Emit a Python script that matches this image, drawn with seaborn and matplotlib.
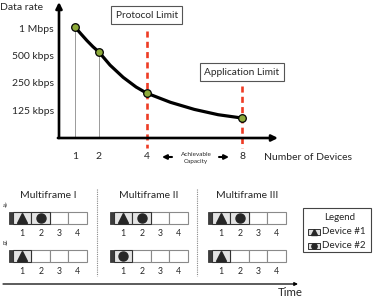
import matplotlib
matplotlib.use('Agg')
import matplotlib.pyplot as plt
from matplotlib.patches import Rectangle
import seaborn as sns
import pandas as pd

# values
devices = [1, 2, 4, 8]
rate_kbps = [1025, 545, 192, 102]
curve_devices = [1, 1.25, 1.5, 1.75, 2, 2.47, 3.02, 3.56, 4, 5, 6, 7, 8]
curve_kbps = [1025, 861, 727, 623, 545, 390, 286, 224, 192, 152, 127, 111, 102]
rate_ticks = [1000, 500, 250, 125]
rate_labels = ['1 Mbps', '500 kbps', '250 kbps', '125 kbps']
device_ticks = [1, 2, 4, 8]
limit_names = ['Protocol Limit', 'Application Limit']
limit_devices = [4, 8]

frame_titles = ['Multiframe I', 'Multiframe II', 'Multiframe III']
slot_labels = ['1', '2', '3', '4']
row_names = ['a)', 'b)']
schedule_a = [['D1', 'D2', '', ''], ['D1', 'D2', '', ''], ['D1', 'D2', '', '']]
schedule_b = [['D1', '', '', ''], ['D2', '', '', ''], ['D1', '', '', '']]
legend_names = ['Device #1', 'Device #2']
legend_keys = ['D1', 'D2']

MARKERS = {'D1': '^', 'D2': 'o'}
RED = '#EE3B24'
GREEN = '#8DAA3A'

sns.set_style('white')
plt.rcParams['font.family'] = ['Lato', 'DejaVu Sans']
W, H = 374, 298
fig = plt.figure(figsize=(W / 100, H / 100), dpi=100)

# ---- top chart: data rate vs number of devices
ax = fig.add_axes([59 / W, 1 - 138 / H, 219 / W, 136 / H])
ax.set_yscale('log')
ax.set_xlim(0.329, 9.508)
ax.set_ylim(61.5, 1934)
for s in ax.spines.values():
    s.set_visible(False)
ax.patch.set_alpha(0)

curve = pd.DataFrame({'devices': curve_devices, 'rate': curve_kbps})
pts = pd.DataFrame({'devices': devices, 'rate': rate_kbps})
sns.lineplot(data=curve, x='devices', y='rate', color='black', lw=2.3, ax=ax, zorder=4)
ax.vlines(devices[:2], 61.5, rate_kbps[:2], color='#9a9a9a', lw=0.7, zorder=2)

tr = ax.get_xaxis_transform()
tops = [0.787, 0.382]
for name, d, top, ty in zip(limit_names, limit_devices, tops, [0.904, 0.485]):
    ax.plot([d, d], [top, -0.074], transform=tr, color=RED, lw=1.9,
            ls=(0, (2.3, 1.6)), clip_on=False, zorder=3)
    ax.text(d, ty, name, transform=tr, ha='center', va='center', fontsize=7.3,
            bbox=dict(boxstyle='square,pad=0.45', fc='white', ec='#555', lw=0.8))

sns.scatterplot(data=pts, x='devices', y='rate', color=GREEN, edgecolor='black',
                linewidth=0.9, s=30, ax=ax, zorder=5)

ax.set_yticks(rate_ticks)
ax.set_yticklabels(rate_labels)
ax.yaxis.set_minor_locator(matplotlib.ticker.NullLocator())
ax.set_xticks(device_ticks)
ax.set_xticklabels([str(d) for d in device_ticks])
ax.tick_params(axis='y', length=0, pad=3.6, labelsize=7.5)
ax.tick_params(axis='x', length=0, pad=10, labelsize=7.5)
ax.set_xlabel('')
ax.set_ylabel('')

arrow = dict(arrowstyle='-|>', lw=1.9, color='black', mutation_scale=9,
             shrinkA=0, shrinkB=0)
ax.annotate('', xy=(0, 1), xytext=(0, 0), xycoords='axes fraction', arrowprops=arrow)
ax.annotate('', xy=(1, 0), xytext=(-0.005, 0), xycoords='axes fraction', arrowprops=arrow)

# ---- overlay in pixel units for labels and the multiframe sketch
ov = fig.add_axes([0, 0, 1, 1])
ov.set_xlim(0, W)
ov.set_ylim(H, 0)
ov.axis('off')
ov.patch.set_alpha(0)

ov.text(0, 8, 'Data rate', ha='left', va='center', fontsize=7.5)
ov.text(264, 157, 'Number of Devices', ha='left', va='center', fontsize=7.5)
ov.text(196, 158.5, 'Achievable\nCapacity', ha='center', va='center', fontsize=4.6,
        linespacing=1.5)
small = dict(arrowstyle='-|>', lw=1.5, color='black', mutation_scale=6.5,
             shrinkA=0, shrinkB=0)
ov.annotate('', xy=(162, 157), xytext=(172, 157), arrowprops=small)
ov.annotate('', xy=(229, 157), xytext=(219, 157), arrowprops=small)

frame_x0 = [9, 110, 208]
row_top = [212, 250]
row_h = 12
slab_w = 4
cell_w = 18.5
for i, title in enumerate(frame_titles):
    x0 = frame_x0[i]
    ov.text(x0 + 39, 195, title, ha='center', va='center', fontsize=7.5)
    for r, sched in enumerate([schedule_a, schedule_b]):
        y0 = row_top[r]
        ov.add_patch(Rectangle((x0, y0), slab_w, row_h, fc='#3c3c3c', ec='#3c3c3c', lw=0.6))
        for k, slot in enumerate(sched[i]):
            cx = x0 + slab_w + k * cell_w
            used = slot != ''
            ov.add_patch(Rectangle((cx, y0), cell_w, row_h,
                                   fc='#e4e4e4' if used else 'white',
                                   ec='#333' if used else '#8a8a8a', lw=0.8,
                                   zorder=3 if used else 2))
            if used:
                ov.plot(cx + cell_w / 2, y0 + row_h / 2 + 0.3, marker=MARKERS[slot],
                        color='#262626', ms=6.5, zorder=4)
            ov.text(cx + cell_w / 2, y0 + 21, slot_labels[k], ha='center', va='center',
                    fontsize=6.3)
for r, name in enumerate(row_names):
    ov.text(3, row_top[r] - 7, name, ha='left', va='center', fontsize=4.5)

for sx in [97, 197.5]:
    ov.plot([sx, sx], [189, 276], color='#888', lw=0.8, ls=(0, (1, 1)))

# legend box
ov.add_patch(Rectangle((303, 208), 68, 44, fc='white', ec='#444', lw=0.8))
ov.text(340, 218, 'Legend', ha='center', va='center', fontsize=7)
for j, (name, key) in enumerate(zip(legend_names, legend_keys)):
    yy = 232 + j * 14
    ov.add_patch(Rectangle((308, yy - 3.2), 12, 6.4, fc='#e0e0e0', ec='#333', lw=0.7))
    ov.plot(314, yy, marker=MARKERS[key], color='#262626', ms=3.8)
    ov.text(322, yy, name, ha='left', va='center', fontsize=7)

# time arrow
ov.annotate('', xy=(298, 284), xytext=(3, 284),
            arrowprops=dict(arrowstyle='-|>', lw=0.9, color='black', mutation_scale=5,
                            shrinkA=0, shrinkB=0))
ov.text(290, 292, 'Time', ha='center', va='center', fontsize=8.3)

fig.savefig('out.png', dpi=100)
